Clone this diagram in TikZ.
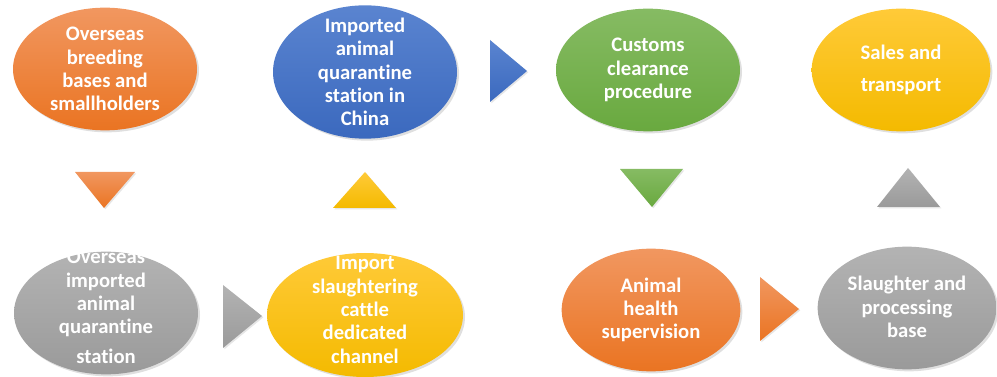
\documentclass[tikz,border=0pt]{standalone}
\usepackage{fontspec}
\setsansfont{Carlito}[Ligatures=NoCommon]
\usepackage{tikz}
\usetikzlibrary{shapes.geometric, shadows}

\definecolor{oranT}{HTML}{F19760}
\definecolor{oranB}{HTML}{EA7422}
\definecolor{blueT}{HTML}{5A84D0}
\definecolor{blueB}{HTML}{3B69BE}
\definecolor{greenT}{HTML}{86BB63}
\definecolor{greenB}{HTML}{69A93F}
\definecolor{goldT}{HTML}{FFCA38}
\definecolor{goldB}{HTML}{F4BA00}
\definecolor{grayT}{HTML}{B3B3B3}
\definecolor{grayB}{HTML}{9A9A9A}

\begin{document}
\begin{tikzpicture}[
        x=0.75pt, y=-0.75pt,
        every node/.style={font=\sffamily\bfseries\fontsize{15.5}{17.5}\selectfont},
        blob/.style={ellipse, inner sep=0pt, minimum width=138pt, minimum height=92pt,
                     drop shadow={opacity=0.25, shadow xshift=1.5pt, shadow yshift=-1.5pt}},
        txt/.style={text=white, align=center, inner sep=0pt},
        orangeblob/.style={blob, top color=oranT, bottom color=oranB},
        blueblob/.style={blob, top color=blueT, bottom color=blueB},
        greenblob/.style={blob, top color=greenT, bottom color=greenB},
        goldblob/.style={blob, top color=goldT, bottom color=goldB},
        grayblob/.style={blob, top color=grayT, bottom color=grayB},
        marker/.style={drop shadow={opacity=0.2, shadow xshift=1pt, shadow yshift=-1pt}}
    ]

    \useasboundingbox (0,0) rectangle (997,377);

    % Top row
    \node[orangeblob] (breed) at (105,69) {};
    \node[txt] (breedtxt) at (breed) {Overseas\\breeding\\bases and\\smallholders};

    \node[blueblob, minimum height=100pt] (china) at (365,72) {};
    \node[txt] (chinatxt) at (china) {Imported\\animal\\quarantine\\station in\\China};

    \node[greenblob] (customs) at (648,70) {};
    \node[txt] (customstxt) at (customs) {Customs\\clearance\\procedure};

    \node[goldblob, minimum width=134pt] (sales) at (901,70) {};
    \node[txt] (salestxt) at (sales) {Sales and\\[7pt]transport};

    % Bottom row
    \node[grayblob] (overseas) at (106,313) {};
    \node[txt] (overseastxt) at (106,307) {Overseas\\imported\\animal\\quarantine\\[5pt]station};

    \node[goldblob, minimum width=147pt, minimum height=93pt] (channel) at (365,315) {};
    \node[txt] (channeltxt) at (365,310) {Import\\slaughtering\\cattle\\dedicated\\channel};

    \node[orangeblob, minimum width=134pt] (health) at (651,310) {};
    \node[txt] (healthtxt) at (health) {Animal\\health\\supervision};

    \node[grayblob, minimum width=134pt] (slaughter) at (907,308) {};
    \node[txt] (slaughtertxt) at (907,307) {Slaughter and\\processing\\base};

    % Triangle markers between the steps
    \shade[marker, top color=oranT, bottom color=oranB]
      (75,172) -- (135,172) -- (104,208) -- cycle;
    \shade[marker, top color=goldT, bottom color=goldB]
      (333,208) -- (396,208) -- (365,172) -- cycle;
    \shade[marker, top color=blueT, bottom color=blueB]
      (490,40) -- (490,102) -- (527,71) -- cycle;
    \shade[marker, top color=greenT, bottom color=greenB]
      (620,169) -- (683,169) -- (652,207) -- cycle;
    \shade[marker, top color=grayT, bottom color=grayB]
      (877,207) -- (940,207) -- (908,168) -- cycle;
    \shade[marker, top color=grayT, bottom color=grayB]
      (223,285) -- (223,348) -- (262,316) -- cycle;
    \shade[marker, top color=oranT, bottom color=oranB]
      (760,277) -- (760,341) -- (799,309) -- cycle;

\end{tikzpicture}
\end{document}
